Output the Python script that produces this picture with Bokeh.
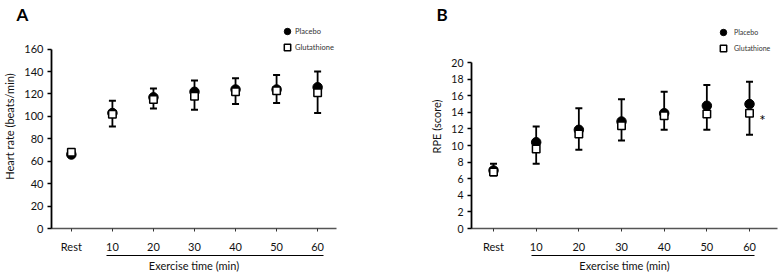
from bokeh.plotting import figure
from bokeh.layouts import row
from bokeh.models import Range1d, FixedTicker, LinearAxis, Legend, LegendItem
from bokeh.core.properties import value
from bokeh.embed import file_html
from bokeh.resources import INLINE

# ---- data ----
time_labels = ["Rest", "10", "20", "30", "40", "50", "60"]

hr_placebo = [66, 103, 117, 122, 124, 124, 126]
hr_glut = [68, 102, 115, 118, 122, 123, 121]
hr_placebo_upper = [70, 114, 125, 132, 134, 137, 140]
hr_glut_lower = [64, 91, 107, 106, 111, 112, 103]
hr_yticks = [0, 20, 40, 60, 80, 100, 120, 140, 160]

rpe_placebo = [7.0, 10.4, 11.9, 12.9, 13.9, 14.8, 15.0]
rpe_glut = [6.8, 9.6, 11.4, 12.4, 13.6, 13.8, 13.9]
rpe_placebo_upper = [7.8, 12.3, 14.5, 15.6, 16.5, 17.3, 17.7]
rpe_glut_lower = [6.4, 7.8, 9.5, 10.6, 11.9, 11.9, 11.3]
rpe_yticks = [0, 2, 4, 6, 8, 10, 12, 14, 16, 18, 20]

FONT = "Lato"
TXT = "#111111"


def make_panel(letter, ylabel, placebo, glut, upper, lower, yticks, y_end,
               width, mb_left, mb_right, mb_top, mb_bottom, xr, under_bounds,
               legend_pos, legend_font, legend_standoff, tick_size, title_offset):
    xs = list(range(len(time_labels)))
    p = figure(width=width, height=274, output_backend="svg", toolbar_location=None,
               x_range=Range1d(*xr), y_range=Range1d(yticks[0], y_end),
               min_border_left=mb_left, min_border_right=mb_right,
               min_border_top=mb_top, min_border_bottom=mb_bottom,
               title=letter)
    p.outline_line_color = None
    p.grid.visible = False
    p.background_fill_color = "white"
    p.border_fill_color = "white"

    p.title.text_font = FONT
    p.title.text_font_size = "17px"
    p.title.text_font_style = "bold"
    p.title.text_color = "black"
    p.title.align = "left"
    p.title.offset = title_offset
    p.title.standoff = 0

    # x axis
    xa = p.xaxis[0]
    xa.ticker = FixedTicker(ticks=xs)
    xa.major_label_overrides = {i: t for i, t in enumerate(time_labels)}
    xa.minor_tick_line_color = None
    xa.major_tick_out = 3
    xa.major_tick_in = 0
    xa.major_label_standoff = 8
    xa.axis_line_color = "#555555"
    xa.axis_line_width = 1.5
    xa.major_tick_line_color = "#333333"
    xa.major_label_text_font = FONT
    xa.major_label_text_font_size = "11px"
    xa.major_label_text_color = TXT

    # y axis
    ya = p.yaxis[0]
    ya.ticker = FixedTicker(ticks=yticks)
    ya.bounds = (yticks[0], yticks[-1])
    ya.minor_tick_line_color = None
    ya.major_tick_out = 4
    ya.major_tick_in = 0
    ya.major_label_standoff = 4
    ya.axis_line_color = "black"
    ya.axis_line_width = 1.8
    ya.major_tick_line_width = 1.3
    ya.major_label_text_font = FONT
    ya.major_label_text_font_size = tick_size
    ya.major_label_text_color = TXT
    ya.axis_label = ylabel
    ya.axis_label_standoff = 5
    ya.axis_label_text_font = FONT
    ya.axis_label_text_font_size = "11px"
    ya.axis_label_text_font_style = "normal"
    ya.axis_label_text_color = TXT

    # underline under exercise times, carrying the x label
    ua = LinearAxis(ticker=FixedTicker(ticks=[]), bounds=under_bounds)
    ua.major_label_text_font_size = "0px"
    ua.axis_line_color = "black"
    ua.axis_line_width = 1.2
    ua.minor_tick_line_color = None
    ua.major_tick_line_color = None
    ua.axis_label = "Exercise time (min)"
    ua.axis_label_standoff = 3
    ua.axis_label_text_font = FONT
    ua.axis_label_text_font_size = "11px"
    ua.axis_label_text_font_style = "normal"
    ua.axis_label_text_color = TXT
    p.add_layout(ua, "below")

    # error bars
    p.segment(x0=xs, y0=placebo, x1=xs, y1=upper, line_color="black", line_width=1.8)
    p.segment(x0=xs, y0=glut, x1=xs, y1=lower, line_color="black", line_width=1.8)
    p.scatter(x=xs, y=upper, marker="dash", size=7, line_color="black", line_width=2)
    p.scatter(x=xs, y=lower, marker="dash", size=7, line_color="black", line_width=2)

    # markers
    rc = p.scatter(x=xs, y=placebo, marker="circle", size=9.5, fill_color="black",
                   line_color="black")
    rs = p.scatter(x=xs, y=glut, marker="square", size=7.5, fill_color="white",
                   line_color="black", line_width=1.5)

    legend = Legend(items=[LegendItem(label="Placebo", renderers=[rc]),
                           LegendItem(label="Glutathione", renderers=[rs])],
                    location=legend_pos, orientation="vertical",
                    border_line_color=None, background_fill_alpha=0,
                    padding=0, margin=0, spacing=0,
                    glyph_width=16, glyph_height=16, label_height=16,
                    label_standoff=legend_standoff, label_text_font=FONT,
                    label_text_font_size=legend_font, label_text_color="#333333")
    p.add_layout(legend, "center")
    return p, xs


pA, xsA = make_panel("A", "Heart rate (beats/min)", hr_placebo, hr_glut,
                     hr_placebo_upper, hr_glut_lower, hr_yticks, 182.0,
                     width=400, mb_left=49, mb_right=64, mb_top=24, mb_bottom=43,
                     xr=(-0.484, 6.46), under_bounds=(0.85, 6.15),
                     legend_pos=(228, 173), legend_font="7.5px", legend_standoff=0,
                     tick_size="11px", title_offset=-35)

pB, xsB = make_panel("B", "RPE (score)", rpe_placebo, rpe_glut,
                     rpe_placebo_upper, rpe_glut_lower, rpe_yticks, 24.6,
                     width=378, mb_left=71, mb_right=1, mb_top=24, mb_bottom=41,
                     xr=(-0.516, 6.656), under_bounds=(0.89, 6.12),
                     legend_pos=(244, 172), legend_font="7px", legend_standoff=3,
                     tick_size="10.5px", title_offset=-35)

pB.text(x=[xsB[-1]], y=[rpe_glut[-1]], text=["*"], x_offset=13, y_offset=7,
        text_font=value(FONT), text_font_size="15px", text_align="center",
        text_baseline="middle", text_color="black")

layout = row(pA, pB)
open("out.html", "w").write(file_html(layout, INLINE))
